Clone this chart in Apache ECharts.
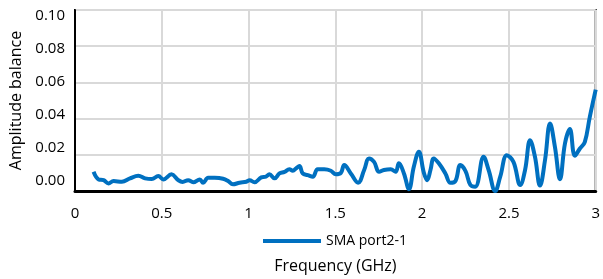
<!DOCTYPE html>
<html>
<head>
<meta charset="utf-8">
<script src="https://cdn.jsdelivr.net/npm/echarts@6/dist/echarts.min.js"></script>
<style>
  html, body { margin: 0; padding: 0; background: #fff; }
  #main { width: 603px; height: 279px; }
</style>
</head>
<body>
<div id="main"></div>
<script>
// frequency points (GHz) and amplitude balance
var freq = [0.107, 0.136, 0.165, 0.193, 0.222, 0.27, 0.317, 0.365, 0.404, 0.442,
  0.48, 0.509, 0.556, 0.595, 0.62, 0.652, 0.681, 0.719, 0.738, 0.767,
  0.805, 0.853, 0.882, 0.91, 0.948, 0.987, 1.006, 1.034, 1.073, 1.10,
  1.12, 1.15, 1.178, 1.207, 1.235, 1.255, 1.274, 1.293, 1.312, 1.341,
  1.37, 1.398, 1.436, 1.474, 1.503, 1.532, 1.551, 1.589, 1.631, 1.666,
  1.694, 1.723, 1.752, 1.78, 1.819, 1.847, 1.866, 1.895, 1.924, 1.952,
  1.981, 2.01, 2.029, 2.048, 2.067, 2.096, 2.134, 2.163, 2.192, 2.22,
  2.25, 2.278, 2.306, 2.354, 2.383, 2.421, 2.45, 2.488, 2.526, 2.565,
  2.593, 2.622, 2.65, 2.679, 2.708, 2.737, 2.765, 2.794, 2.823, 2.851,
  2.88, 2.909, 2.937, 2.966, 3.0];
var balance = [0.0106, 0.0064, 0.006, 0.0042, 0.0055, 0.0051, 0.007, 0.0084, 0.007, 0.0066,
  0.0083, 0.0064, 0.0092, 0.006, 0.005, 0.006, 0.0048, 0.0064, 0.0046, 0.0073,
  0.0073, 0.0068, 0.0055, 0.0037, 0.0046, 0.0051, 0.006, 0.0048, 0.0075, 0.0079,
  0.0092, 0.007, 0.0097, 0.0106, 0.012, 0.0112, 0.0125, 0.0138, 0.0097, 0.0088,
  0.0079, 0.012, 0.012, 0.0112, 0.0092, 0.01, 0.0143, 0.0097, 0.0046, 0.0116,
  0.018, 0.0161, 0.0106, 0.0116, 0.012, 0.0106, 0.0153, 0.0097, 0.001, 0.0134,
  0.0217, 0.01, 0.006, 0.0116, 0.018, 0.0153, 0.0097, 0.0045, 0.0055, 0.0143,
  0.011, 0.0033, 0.0024, 0.0189, 0.0116, 0.0, 0.0079, 0.0198, 0.0161, 0.0033,
  0.0116, 0.0281, 0.0189, 0.003, 0.0171, 0.0373, 0.0244, 0.0065, 0.0263, 0.0342,
  0.0195, 0.0235, 0.027, 0.041, 0.056];
var seriesName = 'SMA port2-1';

var font = '"Open Sans", sans-serif';

// y labels in the picture sit a bit closer together than the gridlines
var rich = {};
for (var k = 0; k <= 5; k++) {
  var d = 6 - (5 - k) * 3.2;
  rich['k' + k] = {
    fontSize: 15, fontFamily: font, color: '#000',
    padding: d < 0 ? [0, 0, -2 * d, 0] : [2 * d, 0, 0, 0]
  };
}

var chartDom = document.getElementById('main');
var myChart = echarts.init(chartDom);
var option;
option = {
  animation: false,
  grid: {
    left: 73, right: 7, top: 10, bottom: 88,
    show: true, borderColor: '#000', borderWidth: 2
  },
  legend: {
    top: 229, left: 258,
    icon: 'rect', itemWidth: 58, itemHeight: 4, itemGap: 4,
    textStyle: { fontSize: 14, fontFamily: font, color: '#000' },
    data: [seriesName]
  },
  xAxis: {
    type: 'value', min: 0, max: 3, interval: 0.5,
    name: 'Frequency (GHz)', nameLocation: 'middle', nameGap: 67,
    nameTextStyle: { fontSize: 16, fontFamily: font, color: '#000' },
    axisLine: { lineStyle: { color: '#000', width: 3 } },
    axisTick: { show: false },
    axisLabel: { fontSize: 15, fontFamily: font, color: '#000', margin: 15 },
    splitLine: { lineStyle: { color: '#d9d9d9', width: 2 } }
  },
  yAxis: {
    type: 'value', min: 0, max: 0.1, interval: 0.02,
    name: 'Amplitude balance', nameLocation: 'middle', nameGap: 51,
    nameTextStyle: { fontSize: 16, fontFamily: font, color: '#000' },
    axisLine: { show: true, lineStyle: { color: '#000', width: 2 } },
    axisTick: { show: false },
    axisLabel: {
      margin: 10,
      formatter: function (v) {
        var k = Math.round(v / 0.02);
        return '{k' + k + '|' + v.toFixed(2) + '}';
      },
      rich: rich
    },
    splitLine: { lineStyle: { color: '#d9d9d9', width: 2 } }
  },
  series: [{
    name: seriesName,
    type: 'line',
    data: freq.map(function (f, i) { return [f, balance[i]]; }),
    smooth: 0.4,
    showSymbol: false,
    lineStyle: { color: '#0070c0', width: 4 },
    itemStyle: { color: '#0070c0' }
  }]
};
option && myChart.setOption(option);
</script>
</body>
</html>
